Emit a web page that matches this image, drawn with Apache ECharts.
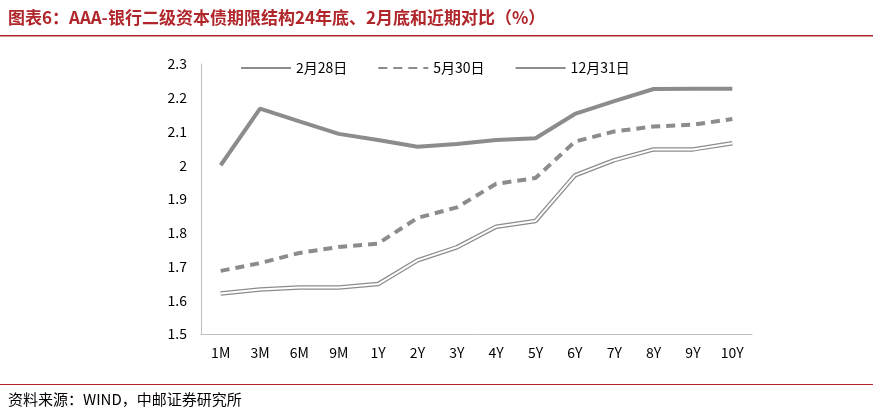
<!DOCTYPE html>
<html><head><meta charset="utf-8">
<script src="https://cdn.jsdelivr.net/npm/echarts@6/dist/echarts.min.js"></script>
<style>html,body{margin:0;padding:0;background:#fff}#charts{width:873px;height:418px}</style>
</head><body><div id="charts"></div>
<script>
var categories = ['1M','3M','6M','9M','1Y','2Y','3Y','4Y','5Y','6Y','7Y','8Y','9Y','10Y'];
var feb28 = [2.00,2.168,2.13,2.093,2.075,2.055,2.063,2.075,2.08,2.152,2.19,2.226,2.227,2.227];
var may30 = [1.687,1.71,1.74,1.758,1.768,1.844,1.875,1.945,1.962,2.07,2.10,2.115,2.12,2.137];
var dec31 = [1.62,1.632,1.638,1.638,1.648,1.718,1.757,1.818,1.835,1.97,2.015,2.047,2.047,2.065];
var yTicks = {min:1.5, max:2.3, interval:0.1};

var chart = echarts.init(document.getElementById('charts'));
var font = '"Noto Sans CJK SC", sans-serif';
chart.setOption({
  animation:false,
  textStyle:{fontFamily:font},
  graphic:[
    {type:'text',left:8,top:9,style:{text:'图表6：AAA-银行二级资本债期限结构24年底、2月底和近期对比（%）',fill:'#b0262b',font:'bold 17px '+font}},
    {type:'rect',shape:{x:0,y:35,width:873,height:1.5},style:{fill:'#b0262b'}},
    {type:'rect',shape:{x:0,y:384,width:873,height:1},style:{fill:'#b0262b'}},
    {type:'text',left:8,top:392,style:{text:'资料来源：WIND，中邮证券研究所',fill:'#000',font:'15px '+font}}
  ],
  legend:{top:56,left:235,itemWidth:50,itemHeight:10,itemGap:30,textStyle:{fontSize:14,color:'#000'},
    itemStyle:{opacity:0},
    data:['2月28日','5月30日','12月31日']},
  grid:{left:201,right:121,top:64,bottom:84},
  xAxis:{type:'category',data:categories,boundaryGap:true,
    axisLine:{lineStyle:{color:'#bfbfbf'}},axisTick:{show:false},
    axisLabel:{color:'#000',fontSize:14,margin:12}},
  yAxis:{type:'value',min:yTicks.min,max:yTicks.max,interval:yTicks.interval,
    axisLine:{show:true,lineStyle:{color:'#bfbfbf'}},splitLine:{show:false},
    axisLabel:{color:'#000',fontSize:14,margin:14,formatter:function(v){return +v.toFixed(1)+'';}}},
  series:[
    {name:'2月28日',type:'line',data:feb28,symbol:'none',lineStyle:{color:'#8c8c8c',width:4},itemStyle:{color:'#8c8c8c'}},
    {name:'5月30日',type:'line',data:may30,symbol:'none',lineStyle:{color:'#8c8c8c',width:4,type:[9,6]},itemStyle:{color:'#8c8c8c'}},
    {name:'12月31日',type:'line',data:dec31,symbol:'none',lineStyle:{color:'#8c8c8c',width:4.5},itemStyle:{color:'#8c8c8c'}},
    {name:'12月31日w',type:'line',data:dec31,symbol:'none',lineStyle:{color:'#fff',width:2},z:3,silent:true}
  ]
});
</script></body></html>
